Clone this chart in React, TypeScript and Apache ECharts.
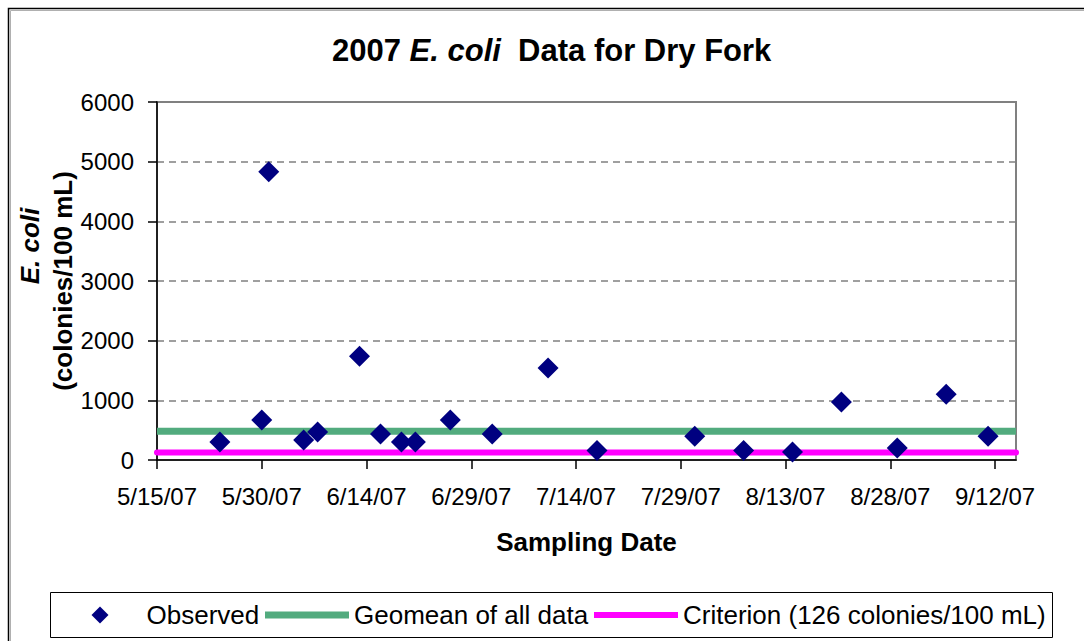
import React, { useEffect, useRef } from "react";
import * as echarts from "echarts";

const startDate = "5/15/07";
const endDate = "9/15/07";
const tickLabels = ["5/15/07", "5/30/07", "6/14/07", "6/29/07", "7/14/07", "7/29/07", "8/13/07", "8/28/07", "9/12/07"];
const sampleDates = [
  "5/24/07", "5/30/07", "5/31/07", "6/5/07", "6/7/07", "6/13/07", "6/16/07", "6/19/07", "6/21/07", "6/26/07",
  "7/2/07", "7/10/07", "7/17/07", "7/31/07", "8/7/07", "8/14/07", "8/21/07", "8/29/07", "9/5/07", "9/11/07",
];
const ecoliValues = [300, 670, 4830, 335, 470, 1740, 435, 300, 300, 670, 435, 1540, 160, 400, 160, 135, 970, 200, 1100, 400];
const geomeanValue = 480;
const criterionValue = 126;
const yTicks = [0, 1000, 2000, 3000, 4000, 5000, 6000];
const seriesNames = ["Observed", "Geomean of all data", "Criterion (126 colonies/100 mL)"];

const FONT = "'Liberation Sans', Arial, sans-serif";
const DAY = 86400000;

function toUTC(s: string): number {
  const [m, d, y] = s.split("/").map(Number);
  return Date.UTC(2000 + y, m - 1, d);
}
const origin = toUTC(startDate);
function toDay(s: string): number {
  return Math.round((toUTC(s) - origin) / DAY);
}
function dayToLabel(v: number): string {
  const dt = new Date(origin + v * DAY);
  return `${dt.getUTCMonth() + 1}/${dt.getUTCDate()}/${String(dt.getUTCFullYear()).slice(2)}`;
}

const xMin = toDay(startDate);
const xMax = toDay(endDate);
const tickDays = tickLabels.map(toDay);
const observed = sampleDates.map((d, i) => [toDay(d), ecoliValues[i]]);

const legendBase = {
  top: 600,
  padding: 0,
  itemHeight: 17,
  symbolKeepAspect: true,
  textStyle: { fontFamily: FONT, fontSize: 26, lineHeight: 30, color: "#000" },
};

export default function App() {
  const ref = useRef<HTMLDivElement>(null);
  useEffect(() => {
    if (!ref.current) return;
    const chart = echarts.init(ref.current, undefined, { renderer: "svg" });
    chart.setOption({
      animation: false,
      backgroundColor: "#fff",
      textStyle: { fontFamily: FONT },
      title: {
        left: 327,
        top: 29,
        text: "{b|2007 }{i|E. coli}{b|  Data for Dry Fork}",
        textStyle: {
          rich: {
            b: { fontFamily: FONT, fontWeight: "bold", fontSize: 31, color: "#000", lineHeight: 32 },
            i: { fontFamily: FONT, fontWeight: "bold", fontStyle: "italic", fontSize: 31, color: "#000", lineHeight: 32 },
          },
        },
      },
      graphic: [
        {
          type: "rect",
          shape: { x: 8.5, y: 8.5, width: 1200, height: 800 },
          style: { fill: "none", stroke: "#000", lineWidth: 1.5 },
          silent: true,
        },
        {
          type: "rect",
          shape: { x: 10.5, y: 10.5, width: 1200, height: 800 },
          style: { fill: "none", stroke: "#b0b0b0", lineWidth: 1 },
          silent: true,
        },
        {
          type: "rect",
          shape: { x: 50.5, y: 592.5, width: 1002, height: 45 },
          style: { fill: "none", stroke: "#000", lineWidth: 1 },
          silent: true,
        },
      ],
      legend: [
        {
          ...legendBase,
          left: 91.5,
          itemWidth: 17,
          textStyle: { ...legendBase.textStyle, padding: [0, 0, 0, 33] },
          data: [{ name: seriesNames[0], icon: "path://M5,0L10,5L5,10L0,5Z", itemStyle: { color: "#000080" } }],
        },
        {
          ...legendBase,
          left: 265,
          itemWidth: 84,
          data: [{ name: seriesNames[1], icon: "path://M0,0H84V7H0Z", itemStyle: { color: "#52AB7E" } }],
        },
        {
          ...legendBase,
          left: 594,
          itemWidth: 84,
          data: [{ name: seriesNames[2], icon: "path://M0,0H84V6H0Z", itemStyle: { color: "#FF00FF" } }],
        },
      ],
      grid: {
        left: 157,
        right: 68,
        top: 102,
        bottom: 181,
        show: true,
        borderColor: "#808080",
        borderWidth: 2,
        backgroundColor: "#fff",
      },
      xAxis: {
        type: "value",
        min: xMin,
        max: xMax,
        interval: 15,
        name: "Sampling Date",
        nameLocation: "middle",
        nameGap: 69,
        nameMoveOverlap: false,
        nameTextStyle: { fontFamily: FONT, fontWeight: "bold", fontSize: 26, color: "#000", lineHeight: 26 },
        axisLine: { show: true, lineStyle: { color: "#000", width: 1.5 } },
        axisTick: { show: true, length: 9, customValues: tickDays, lineStyle: { color: "#000", width: 1.5 } },
        axisLabel: {
          customValues: tickDays,
          formatter: (v: number) => dayToLabel(v),
          fontFamily: FONT,
          fontSize: 24,
          lineHeight: 24,
          color: "#000",
          margin: 24,
        },
        splitLine: { show: false },
      },
      yAxis: {
        type: "value",
        min: yTicks[0],
        max: yTicks[yTicks.length - 1],
        interval: 1000,
        name: "{i|E. coli}\n{b|(colonies/100 mL)}",
        nameLocation: "middle",
        nameRotate: 90,
        nameGap: 78,
        nameMoveOverlap: false,
        nameTextStyle: {
          rich: {
            i: { fontFamily: FONT, fontWeight: "bold", fontStyle: "italic", fontSize: 26, lineHeight: 33, color: "#000", padding: [0, 0, 0, 70] },
            b: { fontFamily: FONT, fontWeight: "bold", fontSize: 26, lineHeight: 33, color: "#000" },
          },
        },
        axisLine: { show: true, lineStyle: { color: "#000", width: 1.5 } },
        axisTick: { show: true, length: 9, lineStyle: { color: "#000", width: 1.5 } },
        axisLabel: { fontFamily: FONT, fontSize: 24, color: "#000", margin: 23, formatter: (v: number) => String(v) },
        splitLine: { show: true, lineStyle: { color: "#808080", width: 1.5, type: [7, 5] } },
      },
      series: [
        {
          name: seriesNames[0],
          type: "scatter",
          symbol: "diamond",
          symbolSize: 21,
          itemStyle: { color: "#000080", opacity: 1 },
          data: observed,
          z: 5,
        },
        {
          name: seriesNames[1],
          type: "line",
          showSymbol: false,
          symbol: "none",
          color: "#52AB7E",
          lineStyle: { color: "#52AB7E", width: 7, cap: "butt" },
          data: [[xMin, geomeanValue], [xMax, geomeanValue]],
          z: 3,
        },
        {
          name: seriesNames[2],
          type: "line",
          showSymbol: false,
          symbol: "none",
          color: "#FF00FF",
          lineStyle: { color: "#FF00FF", width: 6, cap: "round" },
          data: [[xMin, criterionValue], [xMax, criterionValue]],
          z: 3,
        },
      ],
    });
    return () => chart.dispose();
  }, []);
  return <div ref={ref} style={{ position: "fixed", left: 0, top: 0, width: 1084, height: 641 }} />;
}
